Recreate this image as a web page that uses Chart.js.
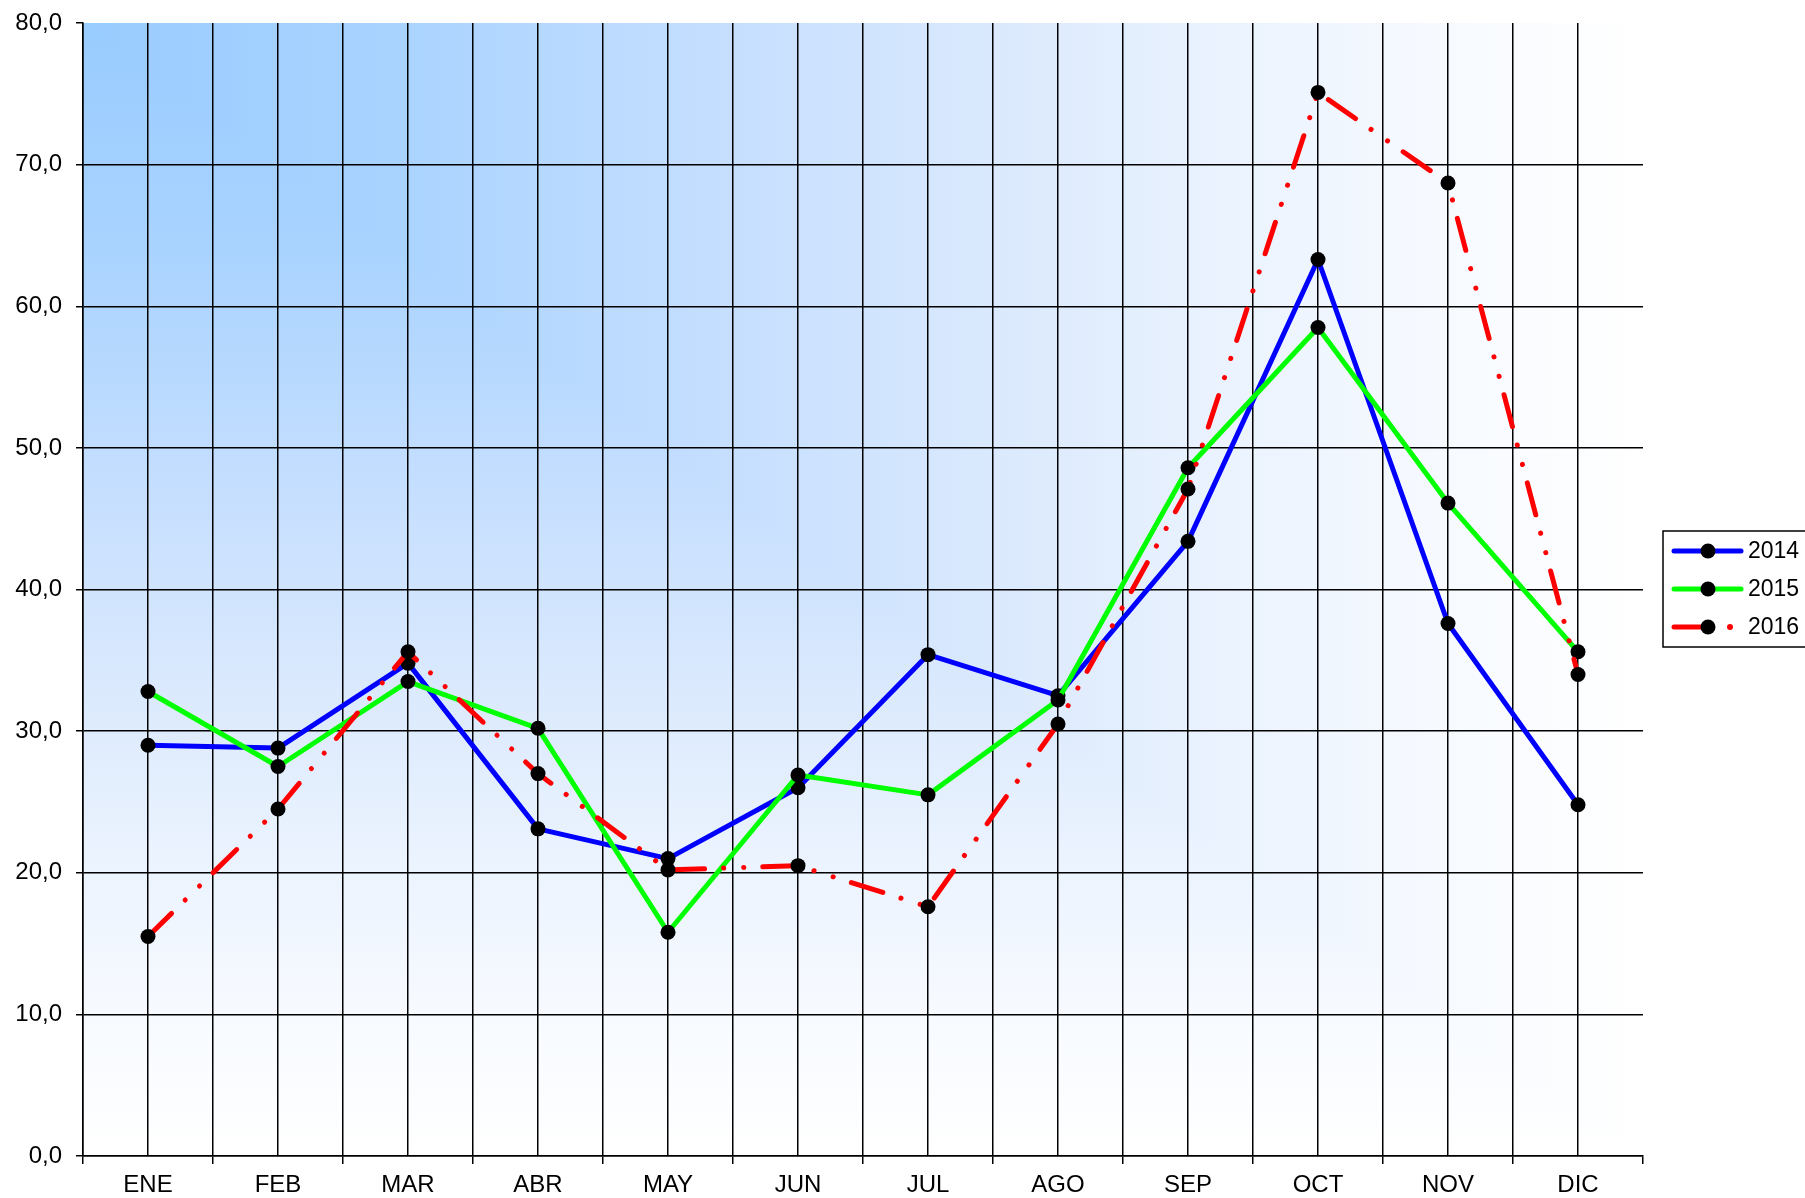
<!DOCTYPE html>
<html>
<head>
<meta charset="utf-8">
<script src="https://cdn.jsdelivr.net/npm/chart.js@4/dist/chart.umd.min.js"></script>
<style>
html,body{margin:0;padding:0;background:#fff;}
#wrap{position:relative;width:1805px;height:1198px;}
canvas{display:block;}
</style>
</head>
<body>
<div id="wrap"><canvas id="c" width="1805" height="1198"></canvas></div>
<script>
const months = ['ENE','FEB','MAR','ABR','MAY','JUN','JUL','AGO','SEP','OCT','NOV','DIC'];
const yTicks = [0,10,20,30,40,50,60,70,80];
const s2014 = [29.0, 28.8, 34.8, 23.1, 21.0, 26.0, 35.4, 32.5, 43.4, 63.3, 37.6, 24.8];
const s2015 = [32.8, 27.5, 33.5, 30.2, 15.8, 26.9, 25.5, 32.2, 48.6, 58.5, 46.1, 35.6];
const s2016 = [15.5, 24.5, 35.6, 27.0, 20.2, 20.5, 17.6, 30.5, 47.1, 75.1, 68.7, 34.0];
const seriesLabels = ['2014','2015','2016'];

const FONT = 'Liberation Sans, Arial, sans-serif';

const STOPS = [[0,'#99ccff'],[0.2,'#a9d3ff'],[0.4,'#c4deff'],[0.6,'#dceafd'],[0.72,'#e9f2fe'],[0.85,'#f5f9ff'],[1,'#ffffff']];

const bgPlugin = {
  id: 'bg',
  beforeDraw(chart) {
    const {ctx, chartArea: a} = chart;
    const W = a.right - a.left, H = a.bottom - a.top;
    ctx.save();
    ctx.translate(a.left, a.top);
    ctx.scale(W, H);
    let g = ctx.createLinearGradient(0, 0, 0, 1);
    STOPS.forEach(s => g.addColorStop(s[0], s[1]));
    ctx.fillStyle = g;
    ctx.fillRect(0, 0, 1, 1);
    ctx.beginPath();
    ctx.moveTo(0, 0); ctx.lineTo(1, 0); ctx.lineTo(1, 1); ctx.closePath();
    ctx.clip();
    g = ctx.createLinearGradient(0, 0, 1, 0);
    STOPS.forEach(s => g.addColorStop(s[0], s[1]));
    ctx.fillStyle = g;
    ctx.fillRect(0, 0, 1, 1);
    ctx.restore();
  }
};

const legendPlugin = {
  id: 'boxLegend',
  afterDraw(chart) {
    const ctx = chart.ctx;
    const x0 = 1663, y0 = 531, x1 = 1808, y1 = 647;
    ctx.save();
    ctx.fillStyle = '#ffffff';
    ctx.fillRect(x0, y0, x1 - x0, y1 - y0);
    ctx.strokeStyle = '#000';
    ctx.lineWidth = 1.5;
    ctx.strokeRect(x0, y0, x1 - x0, y1 - y0);
    const rows = [551, 589, 627];
    chart.data.datasets.forEach((ds, i) => {
      const y = rows[i];
      ctx.strokeStyle = ds.borderColor;
      ctx.lineWidth = 5;
      ctx.lineCap = 'round';
      ctx.beginPath();
      if (ds.borderDash && ds.borderDash.length) {
        ctx.moveTo(1674, y); ctx.lineTo(1704, y);
        ctx.stroke();
        ctx.fillStyle = ds.borderColor;
        ctx.beginPath();
        ctx.arc(1730, y, 3, 0, Math.PI * 2);
        ctx.fill();
      } else {
        ctx.moveTo(1674, y); ctx.lineTo(1741, y);
        ctx.stroke();
      }
      ctx.fillStyle = '#000';
      ctx.beginPath();
      ctx.arc(1708, y, 7.5, 0, Math.PI * 2);
      ctx.fill();
      ctx.font = '23px ' + FONT;
      ctx.textBaseline = 'middle';
      ctx.textAlign = 'left';
      ctx.fillText(ds.label, 1748, y + 1);
    });
    ctx.restore();
  }
};

const fmt = v => Number(v).toFixed(1).replace('.', ',');

new Chart(document.getElementById('c'), {
  type: 'line',
  data: {
    labels: months,
    datasets: [
      { label: seriesLabels[0], data: s2014, borderColor: '#0000ff', backgroundColor: '#0000ff', order: 3 },
      { label: seriesLabels[1], data: s2015, borderColor: '#00ff00', backgroundColor: '#00ff00', order: 2 },
      { label: seriesLabels[2], data: s2016, borderColor: '#ff0000', backgroundColor: '#ff0000', order: 1,
        borderDash: [33, 19, 0.1, 20, 0.1, 19] }
    ].map(d => Object.assign({
      borderWidth: 5, tension: 0, fill: false,
      borderCapStyle: 'round', borderJoinStyle: 'round',
      pointRadius: 7.5, pointHoverRadius: 7.5,
      pointBackgroundColor: '#000', pointBorderColor: '#000', pointBorderWidth: 0
    }, d))
  },
  options: {
    responsive: false,
    animation: false,
    events: [],
    layout: { padding: { top: 0, right: 162, left: 0, bottom: 0 } },
    plugins: { legend: { display: false }, tooltip: { enabled: false } },
    scales: {
      x: {
        type: 'category',
        position: 'bottom',
        offset: true,
        afterFit(s) { s.height = 42; },
        grid: {
          offset: true,
          color: c => (c.type === 'tick' ? '#000' : 'rgba(0,0,0,0)'),
          tickColor: '#000',
          lineWidth: 1.5,
          tickLength: 8
        },
        border: { color: '#000', width: 1.5 },
        ticks: { color: '#000', font: { family: FONT, size: 24 }, padding: 7, maxRotation: 0, autoSkip: false }
      },
      x2: {
        type: 'category',
        labels: months,
        position: 'top',
        offset: true,
        afterFit(s) { s.height = 23; },
        grid: { offset: false, color: '#000', lineWidth: 1.5, drawTicks: false },
        border: { display: false },
        ticks: { display: false }
      },
      y: {
        min: 0, max: 80,
        afterFit(s) { s.width = 83; s.paddingTop = 0; s.paddingBottom = 0; },
        afterBuildTicks(s) { s.ticks = yTicks.map(v => ({ value: v })); },
        grid: {
          color: c => (c.tick && c.tick.value === 80 ? 'rgba(0,0,0,0)' : '#000'),
          tickColor: '#000',
          lineWidth: 1.5,
          tickLength: 7
        },
        border: { color: '#000', width: 1.5 },
        ticks: { color: '#000', font: { family: FONT, size: 24, lineHeight: 1 }, padding: 14, callback: v => fmt(v) }
      }
    }
  },
  plugins: [bgPlugin, legendPlugin]
});
</script>
</body>
</html>
